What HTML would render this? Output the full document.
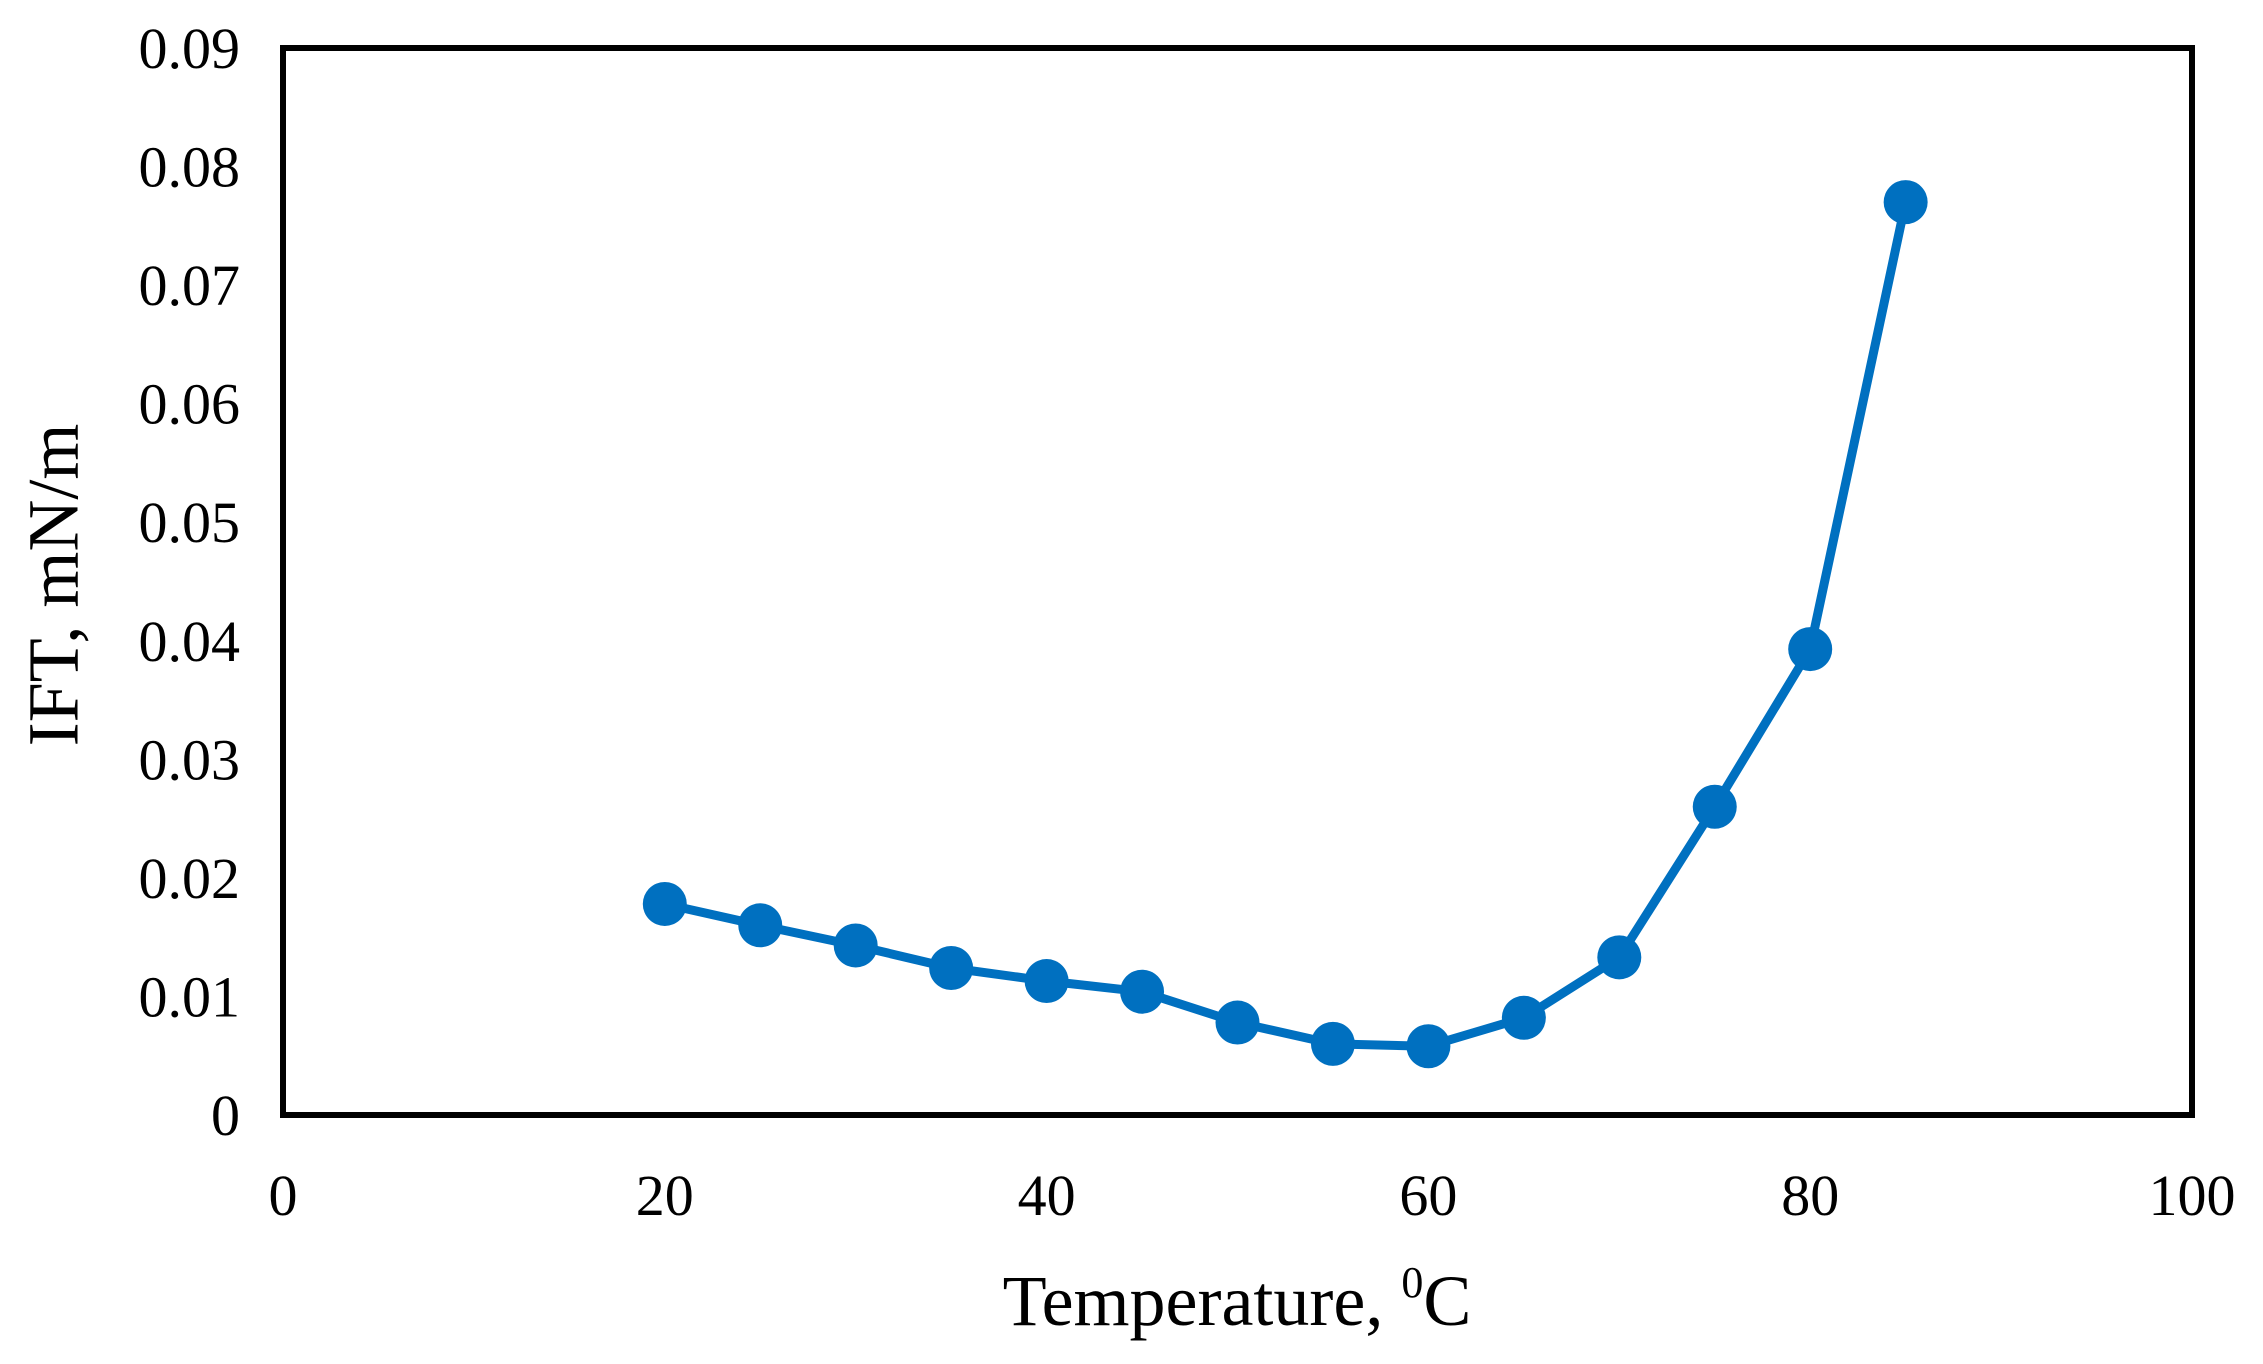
<!DOCTYPE html>
<html><head><meta charset="utf-8"><style>
html,body{margin:0;padding:0;background:#fff;}
svg{display:block;}
text{font-family:"Liberation Serif",serif;fill:#000;}
</style></head><body>
<svg id="chart" width="2263" height="1364">
<rect x="283" y="48" width="1909" height="1067" fill="none" stroke="#000" stroke-width="6"/>
<g id="yticks"></g>
<g id="xticks"></g>
<g id="series"></g>
<text x="61" y="585" font-size="72" text-anchor="middle" transform="rotate(-90 61 585)" dominant-baseline="middle">IFT, mN/m</text>
<text x="1237" y="1325" font-size="72" text-anchor="middle">Temperature, <tspan font-size="44" dy="-28">0</tspan><tspan dy="28">C</tspan></text>
</svg>
<script>
const temps=[20,25,30,35,40,45,50,55,60,65,70,75,80,85];
const ift=[0.0178,0.016,0.0143,0.0124,0.0113,0.0104,0.0078,0.006,0.0058,0.0082,0.0133,0.026,0.0393,0.077];
const yTicks=[0,0.01,0.02,0.03,0.04,0.05,0.06,0.07,0.08,0.09];
const yTickLabels=["0","0.01","0.02","0.03","0.04","0.05","0.06","0.07","0.08","0.09"];
const xTicks=[0,20,40,60,80,100];
const xTickLabels=["0","20","40","60","80","100"];
const NS="http://www.w3.org/2000/svg";
const L=283,R=2192,T=48,B=1115;
function xs(v){return L+(v-0)/100*(R-L);}
function ys(v){return B-(v-0)/0.09*(B-T);}
const yg=document.getElementById('yticks');
yTicks.forEach((v,i)=>{const t=document.createElementNS(NS,'text');
t.setAttribute('x',240);t.setAttribute('y',ys(v)+20);t.setAttribute('font-size','58');t.setAttribute('text-anchor','end');
t.textContent=yTickLabels[i];


yg.appendChild(t);});
const xg=document.getElementById('xticks');
xTicks.forEach((v,i)=>{const t=document.createElementNS(NS,'text');
t.setAttribute('x',xs(v));t.setAttribute('y',1215);t.setAttribute('font-size','58');t.setAttribute('text-anchor','middle');
t.textContent=xTickLabels[i];


xg.appendChild(t);});
const sg=document.getElementById('series');
const pl=document.createElementNS(NS,'polyline');
pl.setAttribute('points',temps.map((t,i)=>xs(t)+','+ys(ift[i])).join(' '));
pl.setAttribute('fill','none');pl.setAttribute('stroke','#0070c0');pl.setAttribute('stroke-width','9');pl.setAttribute('stroke-linejoin','round');


sg.appendChild(pl);
temps.forEach((t,i)=>{const c=document.createElementNS(NS,'circle');
c.setAttribute('cx',xs(t));c.setAttribute('cy',ys(ift[i]));c.setAttribute('r','22');c.setAttribute('fill','#0070c0');


sg.appendChild(c);});
</script>
</body></html>
